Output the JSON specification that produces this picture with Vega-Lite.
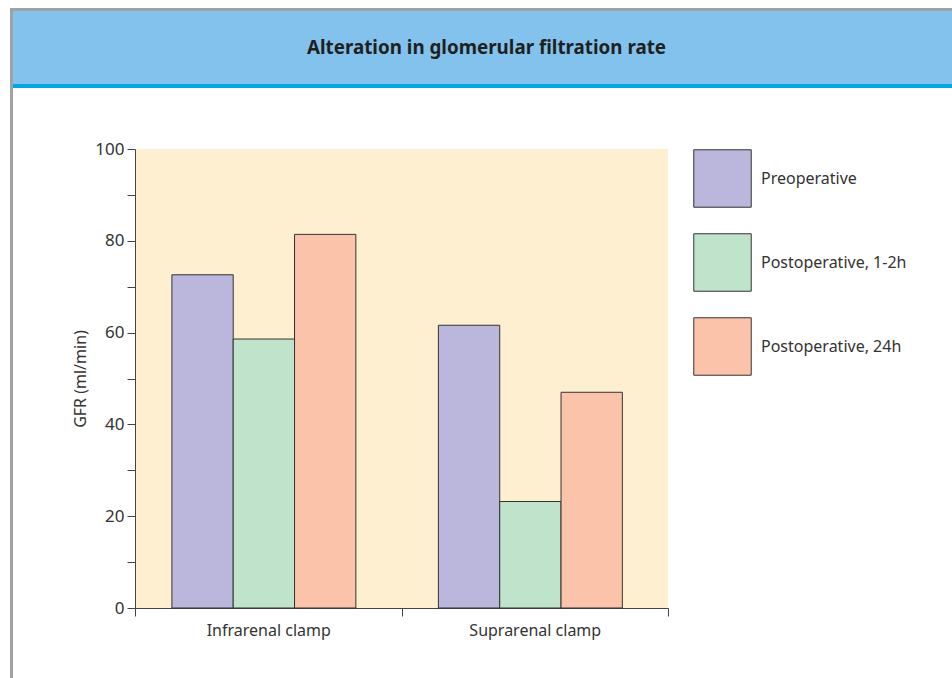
{
  "$schema": "https://vega.github.io/schema/vega-lite/v6.json",
  "padding": {"left": 10, "top": 8, "right": 0, "bottom": 0},
  "background": "#ffffff",
  "config": {
    "view": {"stroke": null},
    "font": "Noto Sans",
    "concat": {"spacing": 0}
  },
  "spacing": 0,
  "resolve": {"scale": {"color": "independent"}, "legend": {"color": "independent"}},
  "hconcat": [
    {
      "width": 3,
      "height": 670,
      "view": {"fill": "#A0A1A3", "stroke": null},
      "data": {"values": [{"k": 0}]},
      "mark": {"type": "point", "opacity": 0, "size": 1},
      "encoding": {}
    },
    {
      "spacing": 0,
      "resolve": {"scale": {"color": "independent"}, "legend": {"color": "independent"}},
      "vconcat": [
        {
          "width": 939,
          "height": 3,
          "view": {"fill": "#A0A1A3", "stroke": null},
          "data": {"values": [{"k": 0}]},
          "mark": {"type": "point", "opacity": 0, "size": 1},
          "encoding": {}
        },
        {
          "width": 939,
          "height": 73,
          "view": {"fill": "#82C2EC", "stroke": null},
          "data": {"values": [{"t": "Alteration in glomerular filtration rate"}]},
          "mark": {"type": "text", "font": "Noto Sans", "fontSize": 18.8, "fontWeight": "bold", "color": "#1f1f1f", "align": "center", "baseline": "middle", "dx": 4},
          "encoding": {"text": {"field": "t", "type": "nominal"}}
        },
        {
          "width": 939,
          "height": 4,
          "view": {"fill": "#00A8E1", "stroke": null},
          "data": {"values": [{"k": 0}]},
          "mark": {"type": "point", "opacity": 0, "size": 1},
          "encoding": {}
        },
        {
          "width": 939,
          "height": 52,
          "data": {"values": [{"k": 0}]},
          "mark": {"type": "point", "opacity": 0, "size": 1},
          "encoding": {}
        },
        {
          "spacing": 0,
          "resolve": {"scale": {"color": "independent"}, "legend": {"color": "independent"}},
          "hconcat": [
            {
              "width": 59,
              "height": 1,
              "data": {"values": [{"k": 0}]},
              "mark": {"type": "point", "opacity": 0, "size": 1},
              "encoding": {}
            },
            {
              "width": 533,
              "height": 459,
              "view": {"fill": "#FEEFD1", "stroke": null},
              "data": {
                "values": [
                  {"clamp": "Infrarenal clamp", "period": "Preoperative", "gfr": 72.6},
                  {"clamp": "Infrarenal clamp", "period": "Postoperative, 1-2h", "gfr": 58.6},
                  {"clamp": "Infrarenal clamp", "period": "Postoperative, 24h", "gfr": 81.4},
                  {"clamp": "Suprarenal clamp", "period": "Preoperative", "gfr": 61.6},
                  {"clamp": "Suprarenal clamp", "period": "Postoperative, 1-2h", "gfr": 23.2},
                  {"clamp": "Suprarenal clamp", "period": "Postoperative, 24h", "gfr": 47.0}
                ]
              },
              "mark": {"type": "bar", "stroke": "#333333", "strokeWidth": 1},
              "encoding": {
                "x": {
                  "field": "clamp",
                  "type": "nominal",
                  "sort": ["Infrarenal clamp", "Suprarenal clamp"],
                  "scale": {"paddingInner": 0, "paddingOuter": 0},
                  "axis": {
                    "title": null,
                    "labelAngle": 0,
                    "tickBand": "extent",
                    "tickSize": 8,
                    "labelPadding": 6,
                    "labelFontSize": 16,
                    "labelColor": "#333333",
                    "domainColor": "#444444",
                    "tickColor": "#444444",
                    "labelLimit": 300
                  }
                },
                "xOffset": {
                  "field": "period",
                  "type": "nominal",
                  "sort": ["Preoperative", "Postoperative, 1-2h", "Postoperative, 24h"],
                  "scale": {"paddingInner": 0, "paddingOuter": 0.673, "align": 0.447}
                },
                "y": {
                  "field": "gfr",
                  "type": "quantitative",
                  "scale": {"domain": [0, 100], "nice": false},
                  "axis": {
                    "title": "GFR (ml/min)",
                    "values": [0, 10, 20, 30, 40, 50, 60, 70, 80, 90, 100],
                    "labelExpr": "datum.value % 20 === 0 ? datum.label : ''",
                    "grid": false,
                    "tickSize": 8,
                    "labelPadding": 3,
                    "labelFontSize": 17,
                    "labelColor": "#333333",
                    "domainColor": "#444444",
                    "tickColor": "#444444",
                    "titleFontSize": 16,
                    "titleFontWeight": "normal",
                    "titleColor": "#333333",
                    "titlePadding": 6
                  }
                },
                "color": {
                  "field": "period",
                  "type": "nominal",
                  "scale": {
                    "domain": ["Preoperative", "Postoperative, 1-2h", "Postoperative, 24h"],
                    "range": ["#BAB6DC", "#BFE3CB", "#FBC4AA"]
                  },
                  "legend": {
                    "title": null,
                    "orient": "right",
                    "offset": 25,
                    "padding": 0,
                    "symbolType": "square",
                    "symbolSize": 3300,
                    "symbolStrokeColor": "#333333",
                    "symbolStrokeWidth": 1,
                    "symbolOpacity": 1,
                    "labelFontSize": 16,
                    "labelOffset": 9,
                    "rowPadding": 21,
                    "labelColor": "#333333",
                    "labelLimit": 400
                  }
                }
              }
            }
          ]
        }
      ]
    }
  ]
}
